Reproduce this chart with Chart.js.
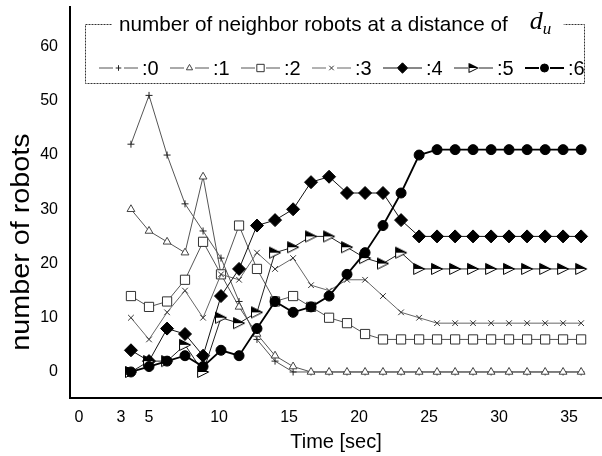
<!DOCTYPE html>
<html>
<head>
<meta charset="utf-8">
<script src="https://cdn.jsdelivr.net/npm/chart.js@4.4.1/dist/chart.umd.min.js"></script>
<style>
  html, body { margin: 0; padding: 0; background: #fff; }
</style>
</head>
<body>
<canvas id="g1" width="602" height="456"></canvas>
<script>
// time of each sample
var times = [3.71, 5.00, 6.29, 7.57, 8.86, 10.14, 11.43, 12.71, 14.00, 15.29, 16.57, 17.86, 19.14,
  20.43, 21.71, 23.00, 24.29, 25.57, 26.86, 28.14, 29.43, 30.71, 32.00, 33.29, 34.57, 35.86];

// number of robots with k neighbours
var n0 = [42, 51, 40, 31, 26, 21, 13, 6, 2, 0, 0, 0, 0, 0, 0, 0, 0, 0, 0, 0, 0, 0, 0, 0, 0, 0];
var n1 = [30, 26, 24, 22, 36, 18, 12, 7, 3, 1, 0, 0, 0, 0, 0, 0, 0, 0, 0, 0, 0, 0, 0, 0, 0, 0];
var n2 = [14, 12, 13, 17, 24, 18, 27, 19, 13, 14, 12, 10, 9, 7, 6, 6, 6, 6, 6, 6, 6, 6, 6, 6, 6, 6];
var n3 = [10, 6, 11, 15, 10, 18, 17, 22, 19, 21, 16, 15, 17, 17, 14, 11, 10, 9, 9, 9, 9, 9, 9, 9, 9, 9];
var n4 = [4, 2, 8, 7, 3, 14, 19, 27, 28, 30, 35, 36, 33, 33, 33, 28, 25, 25, 25, 25, 25, 25, 25, 25, 25, 25];
var n5 = [0, 2, 2, 5, 0, 10, 9, 11, 22, 23, 25, 25, 23, 21, 20, 22, 19, 19, 19, 19, 19, 19, 19, 19, 19, 19];
var n6 = [0, 1, 2, 3, 1, 4, 3, 8, 13, 11, 12, 14, 18, 22, 27, 33, 40, 41, 41, 41, 41, 41, 41, 41, 41, 41];

var names = [':0', ':1', ':2', ':3', ':4', ':5', ':6'];
var xTicks = [0, 3, 5, 10, 15, 20, 25, 30, 35];
var yTicks = [0, 10, 20, 30, 40, 50, 60];
var legendTitle = 'number of neighbor robots at a distance of';

var FONT = '"Liberation Sans", Arial, sans-serif';

function toXY(vals) {
  return vals.map(function (v, i) { return { x: times[i], y: v }; });
}

// right pointing triangle, upper half black
function halfTri(s) {
  var c = document.createElement('canvas');
  c.width = s; c.height = s;
  var x = c.getContext('2d');
  x.beginPath(); x.moveTo(1.5, 1.5); x.lineTo(s - 1.5, s / 2); x.lineTo(1.5, s - 1.5); x.closePath();
  x.fillStyle = '#fff'; x.fill();
  x.beginPath(); x.moveTo(1.5, 1.5); x.lineTo(s - 1.5, s / 2); x.lineTo(1.5, s / 2); x.closePath();
  x.fillStyle = '#000'; x.fill();
  x.beginPath(); x.moveTo(1.5, 1.5); x.lineTo(s - 1.5, s / 2); x.lineTo(1.5, s - 1.5); x.closePath();
  x.strokeStyle = '#000'; x.lineWidth = 1; x.stroke();
  return c;
}
var triMark = halfTri(14);
var triMarkSmall = halfTri(12);

var styles = [
  { borderColor: '#555', borderWidth: 1, pointStyle: 'cross', pointRadius: 3.5, pointBorderColor: '#222', pointBackgroundColor: '#fff', pointBorderWidth: 1 },
  { borderColor: '#555', borderWidth: 1, pointStyle: 'triangle', pointRadius: 4.5, pointBorderColor: '#444', pointBackgroundColor: '#fff', pointBorderWidth: 1 },
  { borderColor: '#555', borderWidth: 1, pointStyle: 'rect', pointRadius: 6.5, pointBorderColor: '#333', pointBackgroundColor: '#fff', pointBorderWidth: 1 },
  { borderColor: '#666', borderWidth: 1, pointStyle: 'crossRot', pointRadius: 4, pointBorderColor: '#333', pointBackgroundColor: '#fff', pointBorderWidth: 1 },
  { borderColor: '#111', borderWidth: 1, pointStyle: 'rectRot', pointRadius: 6.5, pointBorderColor: '#000', pointBackgroundColor: '#000', pointBorderWidth: 1 },
  { borderColor: '#222', borderWidth: 1, pointStyle: triMark, pointRadius: 7, pointBorderColor: '#000', pointBackgroundColor: '#000', pointBorderWidth: 1 },
  { borderColor: '#000', borderWidth: 1.8, pointStyle: 'circle', pointRadius: 5, pointBorderColor: '#000', pointBackgroundColor: '#000', pointBorderWidth: 1 }
];

var values = [n0, n1, n2, n3, n4, n5, n6];
var datasets = values.map(function (v, i) {
  return Object.assign({ label: names[i], data: toXY(v), fill: false, tension: 0, order: 6 - i }, styles[i]);
});

// dashed legend box with title and d_u, plus the y axis title
var legendBox = {
  id: 'legendBox',
  afterDraw: function (chart) {
    var ctx = chart.ctx;
    ctx.save();
    ctx.strokeStyle = '#333';
    ctx.lineWidth = 1;
    ctx.setLineDash([2, 1]);
    ctx.strokeRect(85.5, 24.5, 499, 59);
    ctx.setLineDash([]);

    ctx.font = '20.7px ' + FONT;
    var tw = ctx.measureText(legendTitle).width;
    var dx = 119 + tw + 22;
    ctx.fillStyle = '#fff';
    ctx.fillRect(112, 14, dx + 34 - 112, 22);
    ctx.fillStyle = '#000';
    ctx.textBaseline = 'middle';
    ctx.textAlign = 'left';
    ctx.fillText(legendTitle, 119, 25);
    ctx.font = 'italic 26px "Liberation Serif", "Times New Roman", serif';
    ctx.fillText('d', dx, 22);
    var dw = ctx.measureText('d').width;
    ctx.font = 'italic 17px "Liberation Serif", "Times New Roman", serif';
    ctx.fillText('u', dx + dw, 30);

    // items
    for (var i = 0; i < names.length; i++) {
      var x0 = 99 + 71 * i, y = 68;
      var st = styles[i];
      ctx.strokeStyle = st.borderColor;
      ctx.lineWidth = st.borderWidth;
      ctx.beginPath();
      ctx.moveTo(x0, y); ctx.lineTo(x0 + 14, y);
      ctx.moveTo(x0 + 25, y); ctx.lineTo(x0 + 39, y);
      ctx.stroke();
      ctx.strokeStyle = st.pointBorderColor;
      ctx.fillStyle = st.pointBackgroundColor;
      ctx.lineWidth = st.pointBorderWidth;
      var ps = st.pointStyle === triMark ? triMarkSmall : st.pointStyle;
      Chart.helpers.drawPoint(ctx, { pointStyle: ps, radius: st.pointRadius * 0.8, rotation: 0, borderWidth: 1 }, x0 + 19.5, y);
      ctx.fillStyle = '#000';
      ctx.font = '20px ' + FONT;
      ctx.fillText(names[i], x0 + 43, y + 1);
    }

    // y axis title
    ctx.translate(22, 242);
    ctx.rotate(-Math.PI / 2);
    ctx.scale(1.15, 1);
    ctx.textAlign = 'center';
    ctx.font = '25px ' + FONT;
    ctx.fillText('number of robots', 0, 0);
    ctx.restore();
  }
};

var chart = new Chart(document.getElementById('g1').getContext('2d'), {
  type: 'line',
  data: { datasets: datasets },
  options: {
    responsive: false,
    animation: false,
    devicePixelRatio: 1,
    layout: { autoPadding: false, padding: { top: 7, right: 0, left: 0, bottom: 0 } },
    plugins: { legend: { display: false }, tooltip: { enabled: false } },
    scales: {
      x: {
        type: 'linear',
        min: -0.643, max: 37.35,
        grid: { display: false, drawTicks: false },
        border: { display: true, color: '#000', width: 2 },
        afterBuildTicks: function (s) { s.ticks = xTicks.map(function (v) { return { value: v }; }); },
        afterFit: function (s) { s.height = 58; s.paddingLeft = 0; s.paddingRight = 0; },
        ticks: { color: '#000', font: { family: FONT, size: 16 }, padding: 10, maxRotation: 0, autoSkip: false },
        title: { display: true, text: 'Time [sec]', color: '#000', font: { family: FONT, size: 20 }, padding: { top: 0, bottom: 2 } }
      },
      y: {
        min: -4.8, max: 67.3,
        grid: { display: false, drawTicks: false },
        border: { display: true, color: '#000', width: 2 },
        afterBuildTicks: function (s) { s.ticks = yTicks.map(function (v) { return { value: v }; }); },
        afterFit: function (s) { s.width = 70; s.paddingTop = 0; s.paddingBottom = 0; },
        ticks: { color: '#000', font: { family: FONT, size: 16 }, padding: 12 }
      }
    }
  },
  plugins: [legendBox]
});
</script>
</body>
</html>
